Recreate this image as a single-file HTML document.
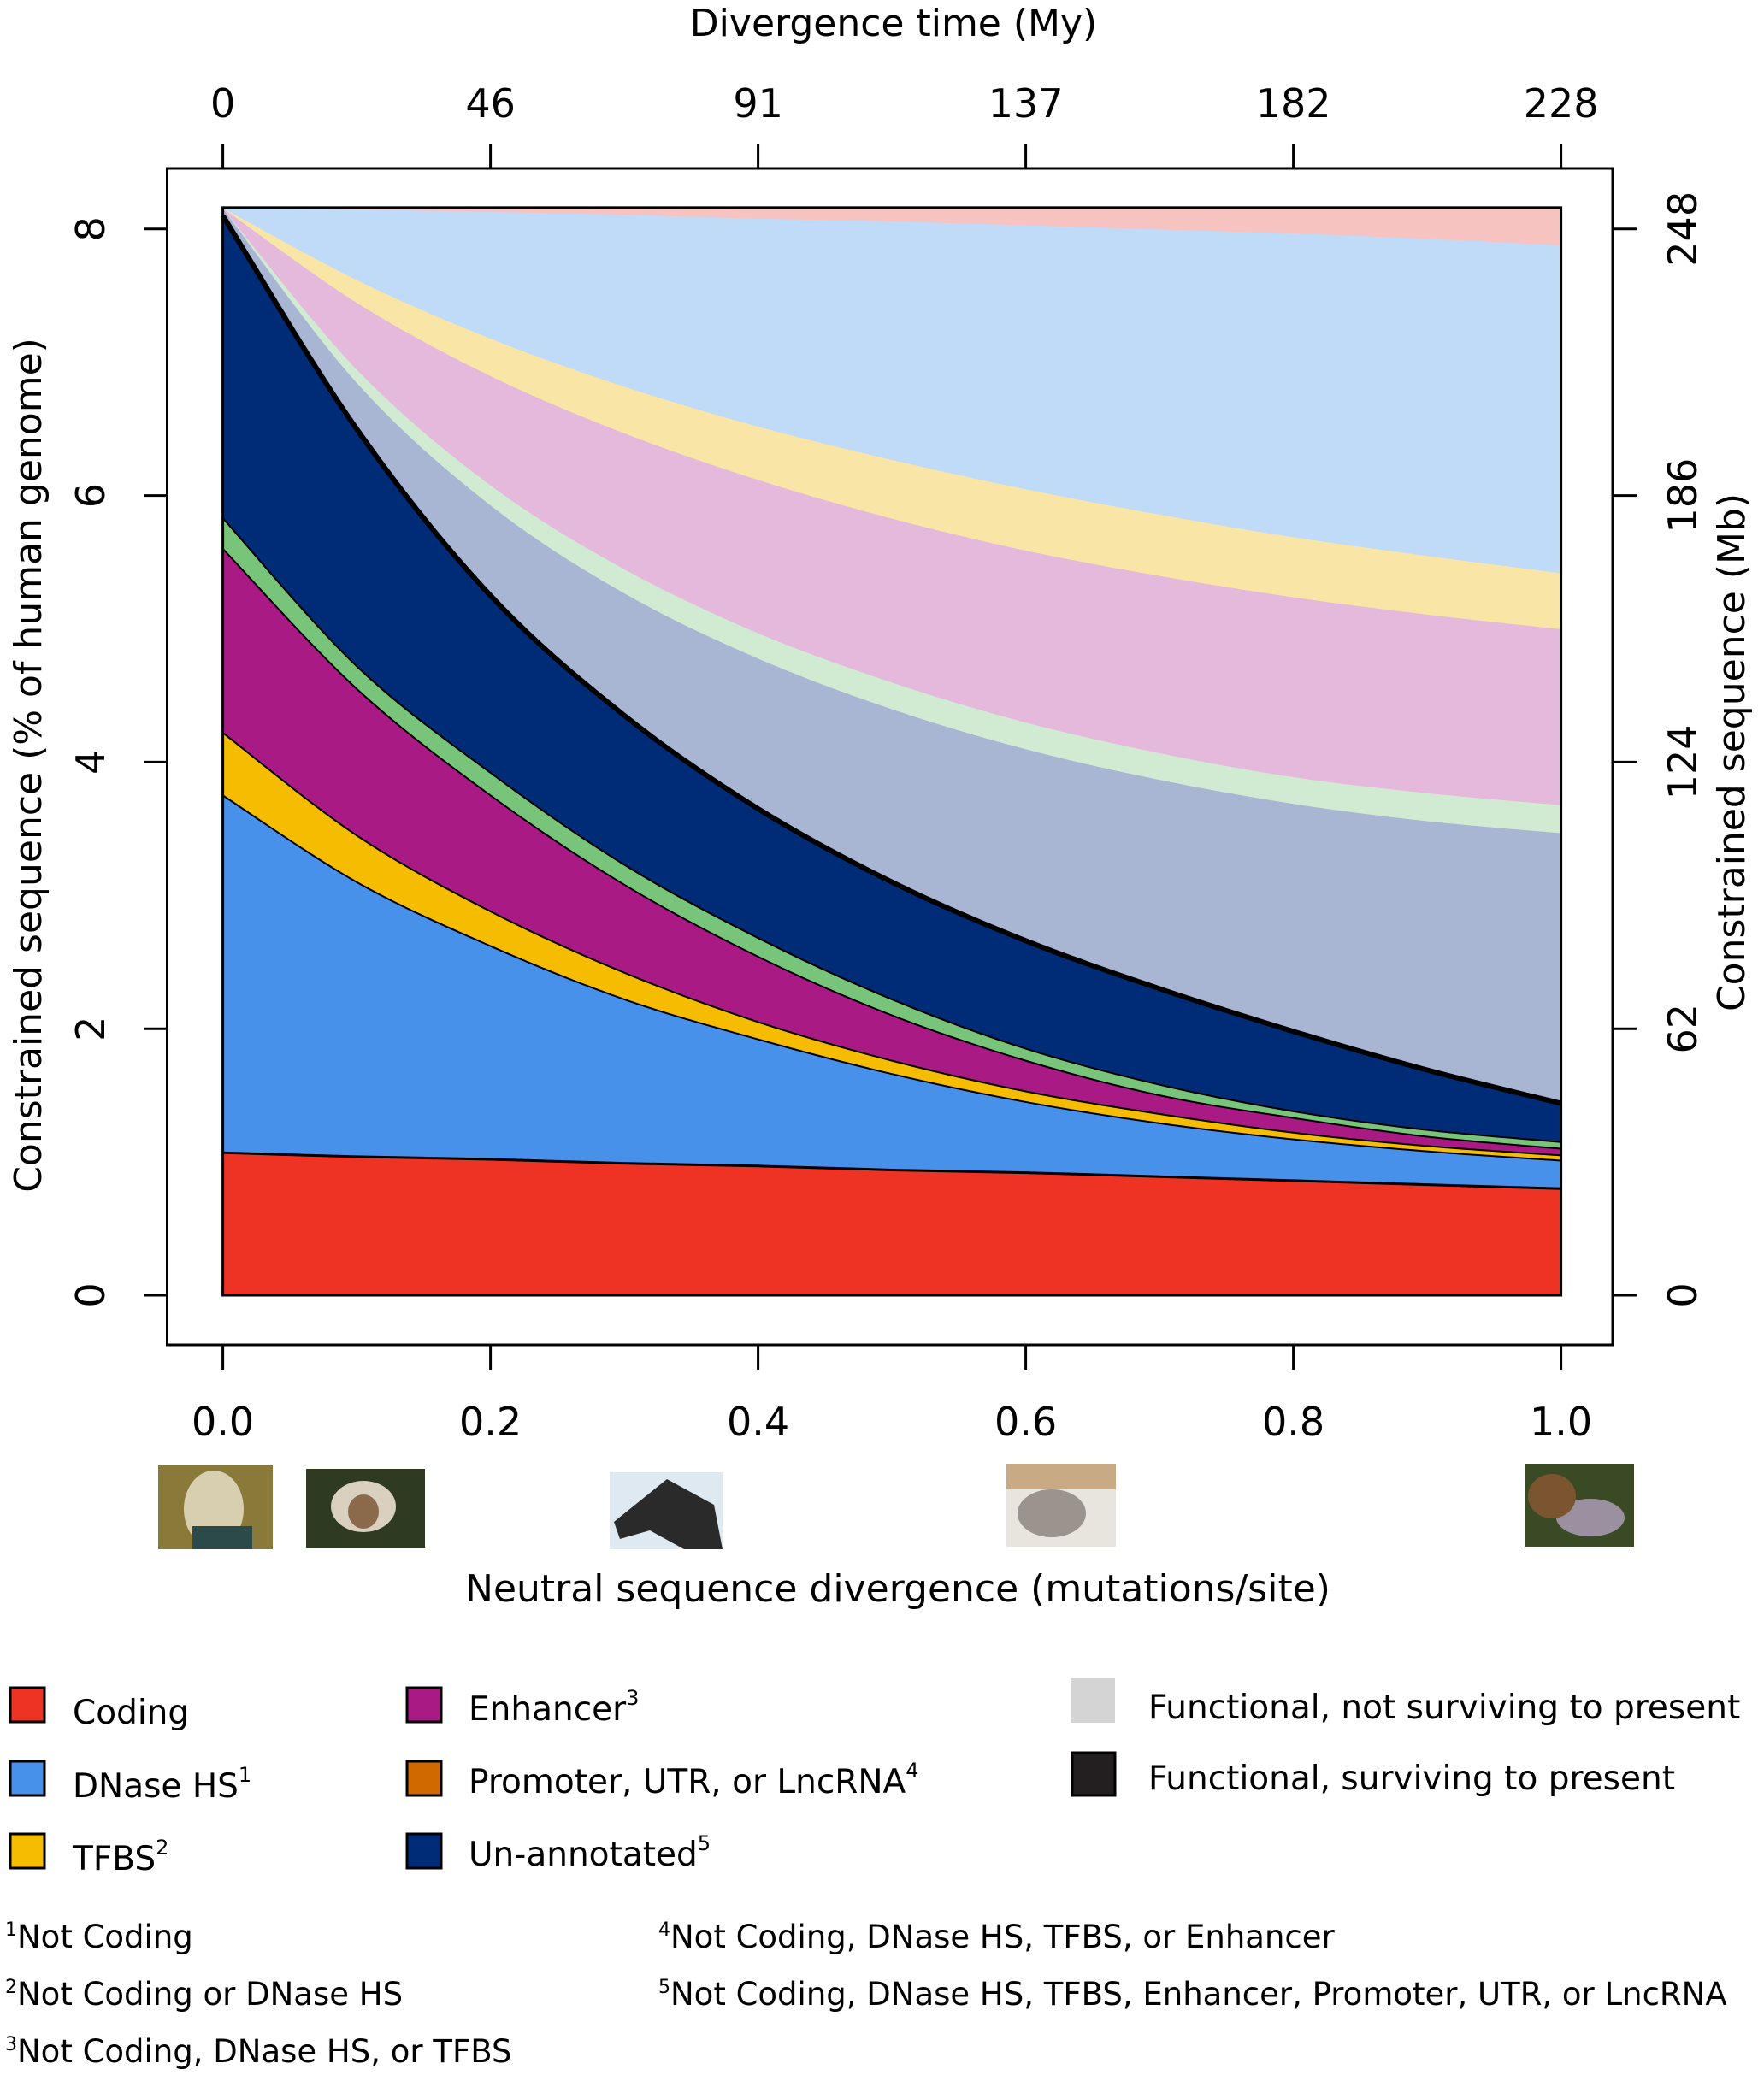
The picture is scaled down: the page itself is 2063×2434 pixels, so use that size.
<!DOCTYPE html>
<html><head><meta charset="utf-8">
<style>
html,body{margin:0;padding:0;background:#fff;}
svg{display:block;font-family:"DejaVu Sans","Liberation Sans",sans-serif;}
</style></head>
<body>
<svg id="chart" xmlns="http://www.w3.org/2000/svg" width="2063" height="2434" viewBox="0 0 2063 2434">
<rect width="2063" height="2434" fill="#fff"/>
<g id="areas"></g>
<g id="lines"></g>
<g id="axes"></g>

<text x="1045" y="42" font-size="44" text-anchor="middle">Divergence time (My)</text>
<text x="1050" y="1873" font-size="44" text-anchor="middle">Neutral sequence divergence (mutations/site)</text>
<text transform="translate(48,895) rotate(-90)" font-size="44" text-anchor="middle">Constrained sequence (% of human genome)</text>
<text transform="translate(2040,880) rotate(-90)" font-size="44" text-anchor="middle">Constrained sequence (Mb)</text>

<g>
<g><rect x="185" y="1713" width="134" height="99" fill="#8a7a3a"/><ellipse cx="250" cy="1765" rx="35" ry="45" fill="#d8cfb0"/><rect x="225" y="1785" width="70" height="27" fill="#2c4a4a"/></g>
<g><rect x="358" y="1718" width="139" height="93" fill="#2e3a22"/><ellipse cx="425" cy="1762" rx="38" ry="30" fill="#d9d0bf"/><ellipse cx="425" cy="1768" rx="18" ry="20" fill="#8a6a4a"/></g>
<g><rect x="713" y="1722" width="132" height="90" fill="#dfe9f2"/><path d="M780 1730 L835 1760 L845 1812 L800 1812 L760 1790 L725 1800 L718 1780 Z" fill="#2a2a2a"/></g>
<g><rect x="1177" y="1712" width="128" height="97" fill="#e8e4de"/><rect x="1177" y="1712" width="128" height="30" fill="#c8ab84"/><ellipse cx="1230" cy="1770" rx="40" ry="28" fill="#9a948c"/></g>
<g><rect x="1783" y="1712" width="128" height="97" fill="#3a4a24"/><ellipse cx="1860" cy="1775" rx="40" ry="22" fill="#9a90a0"/><ellipse cx="1815" cy="1750" rx="28" ry="26" fill="#7a5530"/></g>
</g>

<g font-size="39">
<g><rect x="12" y="1974" width="40" height="40" fill="#ee3224" stroke="#000" stroke-width="3"/><text x="85" y="2016">Coding</text></g>
<g><rect x="12" y="2060" width="40" height="40" fill="#4791ea" stroke="#000" stroke-width="3"/><text x="85" y="2102">DNase HS<tspan font-size="24" dy="-18">1</tspan></text></g>
<g><rect x="12" y="2145" width="40" height="40" fill="#f5bc00" stroke="#000" stroke-width="3"/><text x="85" y="2187">TFBS<tspan font-size="24" dy="-18">2</tspan></text></g>
<g><rect x="476" y="1974" width="40" height="40" fill="#a91a85" stroke="#000" stroke-width="3"/><text x="548" y="2012">Enhancer<tspan font-size="24" dy="-18">3</tspan></text></g>
<g><rect x="476" y="2060" width="40" height="40" fill="#d06a00" stroke="#000" stroke-width="3"/><text x="548" y="2097">Promoter, UTR, or LncRNA<tspan font-size="24" dy="-18">4</tspan></text></g>
<g><rect x="476" y="2145" width="40" height="40" fill="#002c77" stroke="#000" stroke-width="3"/><text x="548" y="2182">Un-annotated<tspan font-size="24" dy="-18">5</tspan></text></g>
<g><rect x="1252" y="1963" width="52" height="52" fill="#d4d4d4"/><text x="1343" y="2010">Functional, not surviving to present</text></g>
<g><rect x="1254" y="2050" width="50" height="50" fill="#231f20" stroke="#000" stroke-width="3"/><text x="1343" y="2093">Functional, surviving to present</text></g>
</g>

<g font-size="37">
<text x="6" y="2278"><tspan font-size="22" dy="-14">1</tspan><tspan dy="14">Not Coding</tspan></text>
<text x="6" y="2345"><tspan font-size="22" dy="-14">2</tspan><tspan dy="14">Not Coding or DNase HS</tspan></text>
<text x="6" y="2412"><tspan font-size="22" dy="-14">3</tspan><tspan dy="14">Not Coding, DNase HS, or TFBS</tspan></text>
<text x="770" y="2278"><tspan font-size="22" dy="-14">4</tspan><tspan dy="14">Not Coding, DNase HS, TFBS, or Enhancer</tspan></text>
<text x="770" y="2345"><tspan font-size="22" dy="-14">5</tspan><tspan dy="14">Not Coding, DNase HS, TFBS, Enhancer, Promoter, UTR, or LncRNA</tspan></text>
</g>
</svg>
<script>
const xs = [0,0.1,0.2,0.3,0.4,0.5,0.6,0.7,0.8,0.9,1.0];
const codingTop     = [1.07,1.04,1.02,0.99,0.97,0.94,0.92,0.89,0.86,0.83,0.80];
const dnaseTop      = [3.75,3.10,2.62,2.22,1.92,1.66,1.45,1.29,1.17,1.08,1.01];
const tfbsTop       = [4.22,3.45,2.88,2.42,2.05,1.76,1.53,1.36,1.22,1.12,1.05];
const enhancerTop   = [5.60,4.55,3.75,3.08,2.54,2.10,1.76,1.50,1.33,1.19,1.10];
const promoterTop   = [5.83,4.72,3.92,3.23,2.68,2.22,1.85,1.58,1.38,1.24,1.15];
const unannotTop    = [8.10,6.50,5.25,4.35,3.65,3.10,2.66,2.30,1.98,1.69,1.44];
const lostUnannotTop= [8.16,6.85,5.93,5.27,4.78,4.40,4.10,3.87,3.69,3.56,3.47];
const lostPromTop   = [8.16,6.95,6.08,5.45,4.97,4.60,4.30,4.07,3.89,3.77,3.68];
const lostEnhTop    = [8.16,7.45,6.90,6.47,6.12,5.83,5.59,5.40,5.24,5.11,5.00];
const lostTfbsTop   = [8.16,7.62,7.18,6.82,6.52,6.27,6.05,5.86,5.69,5.55,5.42];
const lostDnaseTop  = [8.16,8.15,8.13,8.11,8.08,8.06,8.03,8.00,7.97,7.93,7.88];
const lostCodingTop = [8.16,8.16,8.16,8.16,8.16,8.16,8.16,8.16,8.16,8.16,8.16];
const bottomTicks = ["0.0","0.2","0.4","0.6","0.8","1.0"];
const topTicks = ["0","46","91","137","182","228"];
const leftTicks = [0,2,4,6,8];
const rightTicks = ["0","62","124","186","248"];

const X = v => 260.6 + v*1565;
const Y = v => 1515 - v*155.9;
const NS = "http://www.w3.org/2000/svg";

function pts(arr){ return xs.map((x,i)=>[X(x),Y(arr[i])]); }
function spline(p){
  let d = "";
  for(let i=0;i<p.length-1;i++){
    const p0=p[Math.max(i-1,0)], p1=p[i], p2=p[i+1], p3=p[Math.min(i+2,p.length-1)];
    const c1=[p1[0]+(p2[0]-p0[0])/6, p1[1]+(p2[1]-p0[1])/6];
    const c2=[p2[0]-(p3[0]-p1[0])/6, p2[1]-(p3[1]-p1[1])/6];
    d += (i===0?"M"+p1[0]+" "+p1[1]:"")+" C"+c1[0]+" "+c1[1]+" "+c2[0]+" "+c2[1]+" "+p2[0]+" "+p2[1];
  }
  return d;
}
function revSpline(p){ return spline(p.slice().reverse()).replace(/^M/," L"); }

const zero = xs.map(()=>0);
const layers = [
 ["coding-area", zero, codingTop, "#ee3224"],
 ["dnase-area", codingTop, dnaseTop, "#4791ea"],
 ["tfbs-area", dnaseTop, tfbsTop, "#f5bc00"],
 ["enhancer-area", tfbsTop, enhancerTop, "#a91a85"],
 ["promoter-area", enhancerTop, promoterTop, "#78c47a"],
 ["unannotated-area", promoterTop, unannotTop, "#002c77"],
 ["lost-unannotated-area", unannotTop, lostUnannotTop, "#a8b6d4"],
 ["lost-promoter-area", lostUnannotTop, lostPromTop, "#d1ebd3"],
 ["lost-enhancer-area", lostPromTop, lostEnhTop, "#e5b9dc"],
 ["lost-tfbs-area", lostEnhTop, lostTfbsTop, "#f9e6a6"],
 ["lost-dnase-area", lostTfbsTop, lostDnaseTop, "#bfdbf8"],
 ["lost-coding-area", lostDnaseTop, lostCodingTop, "#f7c3c0"]
];
const gA = document.getElementById("areas");
layers.forEach(l=>{
  const p = document.createElementNS(NS,"path");
  p.setAttribute("d", spline(pts(l[2])) + revSpline(pts(l[1])) + " Z");
  p.setAttribute("fill", l[3]);
  p.setAttribute("stroke", l[3]);
  p.setAttribute("stroke-width", "1");
  
  
  gA.appendChild(p);
});
const gL = document.getElementById("lines");
[[codingTop,3],[dnaseTop,2],[tfbsTop,2],[enhancerTop,2],[promoterTop,2],[unannotTop,6]].forEach(l=>{
  const p = document.createElementNS(NS,"path");
  p.setAttribute("d", spline(pts(l[0])));
  p.setAttribute("fill","none");
  p.setAttribute("stroke","#000");
  p.setAttribute("stroke-width", l[1]);
  
  
  gL.appendChild(p);
});
const border = document.createElementNS(NS,"rect");
border.setAttribute("x", X(0)); border.setAttribute("y", Y(8.16));
border.setAttribute("width", X(1)-X(0)); border.setAttribute("height", Y(0)-Y(8.16));
border.setAttribute("fill","none"); border.setAttribute("stroke","#000"); border.setAttribute("stroke-width","3");


gL.appendChild(border);

const gX = document.getElementById("axes");
function mk(tag, attrs, name, txt){
  const e = document.createElementNS(NS, tag);
  for(const k in attrs) e.setAttribute(k, attrs[k]);
  
  
  if(txt!==undefined) e.textContent = txt;
  gX.appendChild(e); return e;
}
mk("rect",{x:195.5,y:197,width:1690.5,height:1376,fill:"none",stroke:"#000","stroke-width":3},"axis-frame");
bottomTicks.forEach((t,i)=>{
  const x = X(i*0.2);
  mk("line",{x1:x,x2:x,y1:1573,y2:1602,stroke:"#000","stroke-width":3},"x-tick");
  mk("text",{x:x,y:1679,"font-size":46,"text-anchor":"middle"},"x-tick-label",t);
});
topTicks.forEach((t,i)=>{
  const x = X(i*0.2);
  mk("line",{x1:x,x2:x,y1:168,y2:197,stroke:"#000","stroke-width":3},"top-tick");
  mk("text",{x:x,y:137,"font-size":46,"text-anchor":"middle"},"top-tick-label",t);
});
leftTicks.forEach((v,i)=>{
  const y = Y(v);
  mk("line",{x1:168,x2:195.5,y1:y,y2:y,stroke:"#000","stroke-width":3},"y-tick");
  mk("text",{transform:`translate(122,${y}) rotate(-90)`,"font-size":46,"text-anchor":"middle"},"y-tick-label",String(v));
  mk("line",{x1:1886,x2:1914,y1:y,y2:y,stroke:"#000","stroke-width":3},"right-tick");
  mk("text",{transform:`translate(1984,${y}) rotate(-90)`,"font-size":46,"text-anchor":"middle"},"right-tick-label",rightTicks[i]);
});
</script>
</body></html>
